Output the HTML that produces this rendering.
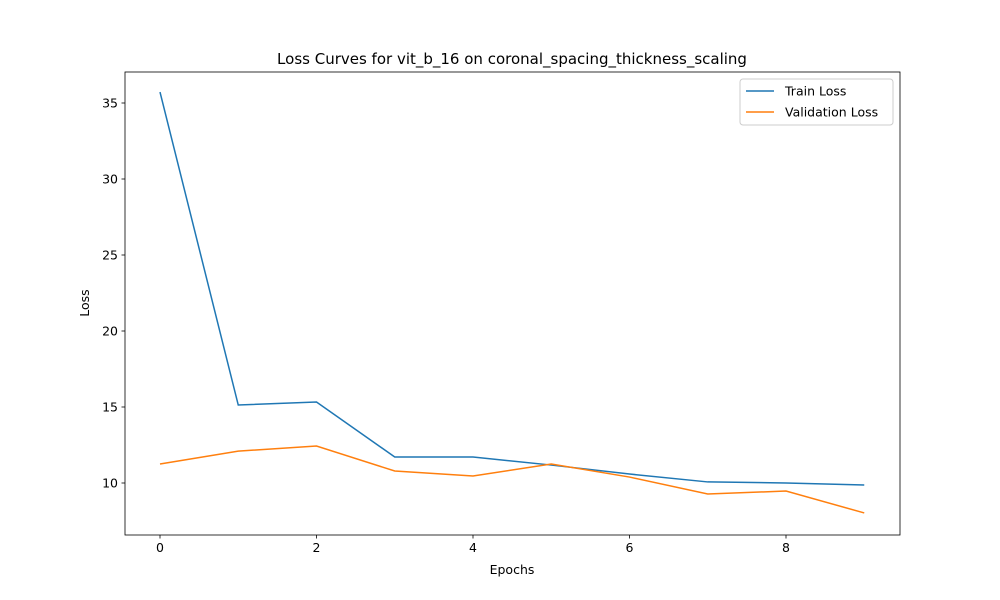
<!DOCTYPE html>
<html><head><meta charset="utf-8"><style>body{margin:0;background:#fff}svg{display:block;font-family:"DejaVu Sans","Liberation Sans",sans-serif}</style></head>
<body>
<svg id="chart" width="1000" height="600" viewBox="0 0 1000 600"></svg>
<script>
const epochs=[0,1,2,3,4,5,6,7,8,9];
const trainLoss=[35.72,15.13,15.33,11.71,11.71,11.18,10.59,10.07,10.0,9.87];
const valLoss=[11.25,12.1,12.43,10.79,10.46,11.25,10.39,9.28,9.47,8.03];
const xTicks=[0,2,4,6,8];
const yTicks=[10,15,20,25,30,35];
const L=125,R=900,T=72,B=535;
const xs=v=>160+v*78.25;
const ys=v=>483-(v-10)*15.2;
const svg=document.getElementById('chart');
const NS='http://www.w3.org/2000/svg';
function mk(t,a,p){const e=document.createElementNS(NS,t);for(const k in a)e.setAttribute(k,a[k]);(p||svg).appendChild(e);return e;}
const frame=mk('rect',{x:L,y:T,width:R-L,height:B-T,fill:'none',stroke:'#000','stroke-width':0.8});


xTicks.forEach(v=>{const g=mk('g',{});


mk('line',{x1:xs(v),x2:xs(v),y1:B,y2:B+3.5,stroke:'#000','stroke-width':0.8},g);
const t=mk('text',{x:xs(v),y:B+17,'text-anchor':'middle','font-size':12.5},g);t.textContent=v;});
yTicks.forEach(v=>{const g=mk('g',{});


mk('line',{x1:L-3.5,x2:L,y1:ys(v),y2:ys(v),stroke:'#000','stroke-width':0.8},g);
const t=mk('text',{x:L-7,y:ys(v)+4.5,'text-anchor':'end','font-size':12.5},g);t.textContent=v;});
function series(d,c,n){const p=mk('polyline',{points:d.map((v,i)=>xs(epochs[i])+','+ys(v)).join(' '),fill:'none',stroke:c,'stroke-width':1.5});

}
series(trainLoss,'#1f77b4','train-loss-line');
series(valLoss,'#ff7f0e','validation-loss-line');
const title=mk('text',{x:512,y:64,'text-anchor':'middle','font-size':15});title.textContent='Loss Curves for vit_b_16 on coronal_spacing_thickness_scaling';


const xl=mk('text',{x:512,y:574,'text-anchor':'middle','font-size':12.5});xl.textContent='Epochs';


const yl=mk('text',{x:89,y:303,'text-anchor':'middle','font-size':12.5,transform:'rotate(-90 89 303)'});yl.textContent='Loss';


const lg=mk('g',{});


mk('rect',{x:740,y:79,width:153,height:46,rx:3,fill:'#fff',stroke:'#ccc','stroke-width':1},lg);
[['Train Loss','#1f77b4',91],['Validation Loss','#ff7f0e',112]].forEach(([n,c,y])=>{const e=mk('g',{},lg);


mk('line',{x1:746,x2:774,y1:y,y2:y,stroke:c,'stroke-width':1.5},e);
const t=mk('text',{x:785,y:y+4.5,'font-size':12.5},e);t.textContent=n;});
</script>
</body></html>
